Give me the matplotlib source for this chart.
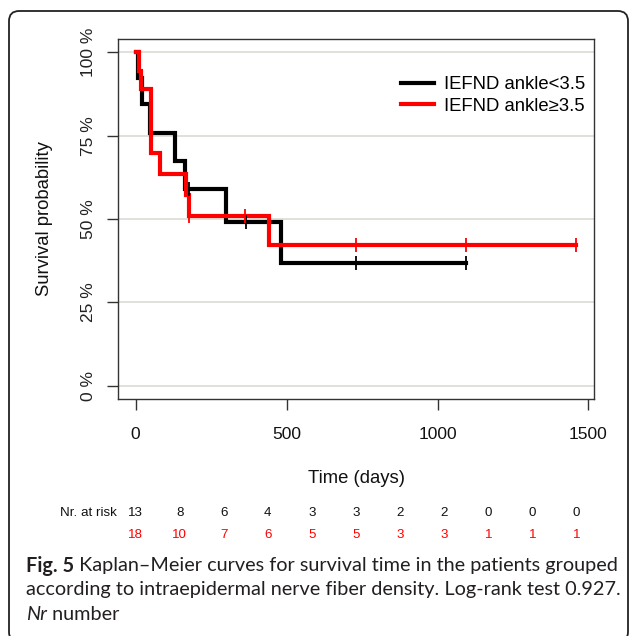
import numpy as np
import matplotlib
matplotlib.use("Agg")
import matplotlib.pyplot as plt
import matplotlib.patches as mpatches

# Kaplan-Meier steps (days, survival)
black_times = [0, 7, 22, 48, 129, 162, 300, 480]
black_surv = [1.0, 0.923, 0.846, 0.757, 0.673, 0.589, 0.491, 0.368]
black_end = 1095
black_censor = [176, 364, 730, 1095]

red_times = [0, 10, 18, 52, 82, 168, 176, 441]
red_surv = [1.0, 0.944, 0.889, 0.698, 0.635, 0.571, 0.508, 0.423]
red_end = 1460
red_censor = [13, 178, 363, 730, 1095, 1460]

labels = ["IEFND ankle<3.5", "IEFND ankle\u22653.5"]
risk_times = np.linspace(0, 1460, 11)
risk_black = [13, 8, 6, 4, 3, 3, 2, 2, 0, 0, 0]
risk_red = [18, 10, 7, 6, 5, 5, 3, 3, 1, 1, 1]

y_ticks = [0, 0.25, 0.5, 0.75, 1.0]
y_ticklabels = ["0 %", "25 %", "50 %", "75 %", "100 %"]
x_ticks = [0, 500, 1000, 1500]

W, H = 630, 636
plt.rcParams['font.family'] = ['Liberation Sans', 'DejaVu Sans']

fig = plt.figure(figsize=(W / 100, H / 100), dpi=100)

def fx(x):
    return x / W

def fy(y):
    return 1 - y / H

ax = fig.add_axes([fx(118), fy(399), fx(594) - fx(118), fy(39) - fy(399)])
ax.set_xlim(-58.4, 1518.4)
ax.set_ylim(-0.04, 1.04)

for y in y_ticks:
    ax.axhline(y, color='#dcdcd4', lw=1.2, zorder=0)


def km(times, surv, end, censor, color, label):
    t = list(times) + [end]
    s = list(surv) + [surv[-1]]
    ax.step(t, s, where='post', color=color, lw=3, label=label, zorder=3,
            solid_joinstyle='miter')
    idx = np.searchsorted(times, censor, side='right') - 1
    cs = np.array(surv)[idx]
    ax.plot(censor, cs, ls='none', marker='|', ms=10, mew=1.3, color=color, zorder=4)


km(black_times, black_surv, black_end, black_censor, 'black', labels[0])
km(red_times, red_surv, red_end, red_censor, '#ff0000', labels[1])

for sp in ax.spines.values():
    sp.set_color('#333333')
    sp.set_linewidth(1.0)

ax.set_yticks(y_ticks)
ax.set_yticklabels(y_ticklabels, rotation=90, va='center', fontsize=12.5, color='#222222')
ax.set_xticks(x_ticks)
ax.set_xticklabels([str(v) for v in x_ticks], fontsize=12.5, color='#111111')
ax.tick_params(axis='both', direction='out', length=8, width=1.0, color='#333333')
ax.tick_params(axis='x', pad=12)
ax.tick_params(axis='y', pad=8)
ax.set_ylabel("Survival probability", fontsize=13.3, labelpad=20, color='#111111')
ax.set_xlabel("Time (days)", fontsize=13.3, labelpad=20, color='#111111')

leg = ax.legend(loc='upper right', bbox_to_anchor=(fx(585), fy(76)),
                bbox_transform=fig.transFigure, frameon=False, fontsize=13.3,
                handlelength=1.75, handletextpad=0.55, labelspacing=0.25,
                borderpad=0, borderaxespad=0)
for line in leg.get_lines():
    line.set_linewidth(3)

# numbers at risk
fig.text(fx(117), fy(513), "Nr. at risk", ha='right', va='center', fontsize=9.6, color='#111111')
for t, nb, nr in zip(risk_times, risk_black, risk_red):
    xf = ax.transData.transform((t, 0))[0] / W
    fig.text(xf, fy(513), str(nb), ha='center', va='center', fontsize=9.6, color='#111111')
    fig.text(xf, fy(535), str(nr), ha='center', va='center', fontsize=9.6, color='#ff0000')

# caption
cap_font = ['Lato', 'DejaVu Sans']
cap_size = 14.3
fig.canvas.draw()
r = fig.canvas.get_renderer()

def run_text(x, y, parts):
    for txt, kw in parts:
        t = fig.text(fx(x), fy(y), txt, ha='left', va='center', fontsize=cap_size,
                     family=cap_font, color='#231f20', **kw)
        x += t.get_window_extent(r).width

run_text(26, 566, [("Fig. 5", dict(weight='bold')),
                   (" Kaplan\u2013Meier curves for survival time in the patients grouped", {})])
run_text(26, 590, [("according to intraepidermal nerve fiber density. Log-rank test 0.927.", {})])
run_text(26, 614, [("Nr", dict(style='italic')), (" number", {})])

frame = mpatches.FancyBboxPatch((fx(9), fy(642)), fx(628) - fx(9), fy(11) - fy(642),
                                boxstyle="round,pad=0,rounding_size=0.016",
                                mutation_aspect=W / H, transform=fig.transFigure,
                                fill=False, edgecolor='#222222', lw=1.3)
fig.patches.append(frame)

fig.savefig("out.png", dpi=100)
